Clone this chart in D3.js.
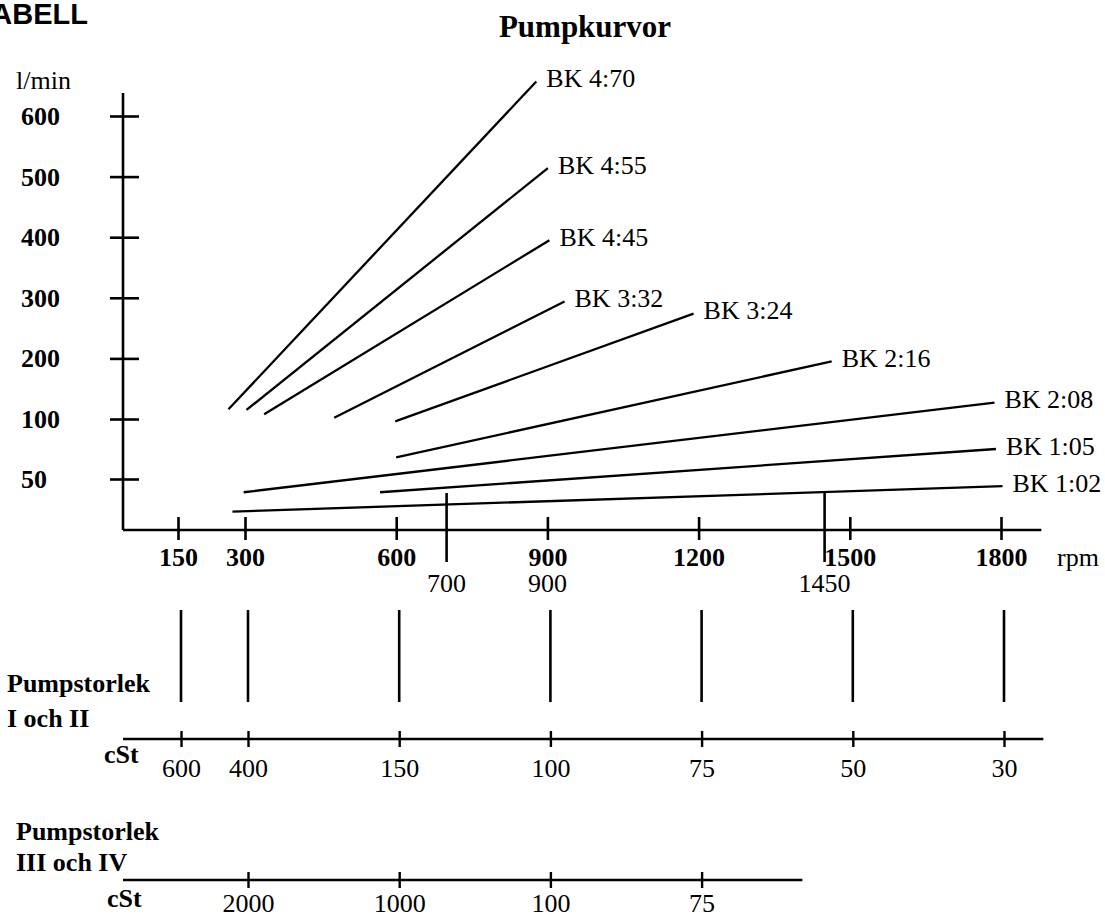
<!DOCTYPE html>
<html>
<head>
<meta charset="utf-8">
<script src="https://cdn.jsdelivr.net/npm/d3@7"></script>
<style>
  body { margin: 0; background: #fff; }
  svg { display: block; }
  text { font-family: 'Liberation Serif', 'Times New Roman', serif; fill: #000; }
</style>
</head>
<body>
<div id="chart"></div>
<script>
// values
var rpmTicks = [150, 300, 600, 900, 1200, 1500, 1800];
var flowTicks = [50, 100, 200, 300, 400, 500, 600];

var curveNames = ["BK 4:70", "BK 4:55", "BK 4:45", "BK 3:32", "BK 3:24", "BK 2:16", "BK 2:08", "BK 1:05", "BK 1:02"];
var curveStartRpm = [263, 303, 338, 477, 598, 600, 297, 568, 272];
var curveStartFlow = [116, 115, 108, 102, 98, 68, 37, 37, 18];
var curveEndRpm = [878, 901, 904, 934, 1190, 1464, 1787, 1790, 1803];
var curveEndFlow = [657, 514, 395, 294, 274, 195, 127, 75, 43];

var markerLines = [700, 1450];
var markerLabels = [700, 900, 1450];

// viscosity scales, aligned to rpm positions
var cstSmallRpm = [150, 300, 600, 900, 1200, 1500, 1800];
var cstSmallLabels = ["600", "400", "150", "100", "75", "50", "30"];
var cstLargeRpm = [300, 600, 900, 1200];
var cstLargeLabels = ["2000", "1000", "100", "75"];

draw_pump_chart("#chart", 1105, 917);

function draw_pump_chart(htmlObjectId, width, height) {

    var svg = d3.select(htmlObjectId)
                .append("svg")
                .attr("width", width)
                .attr("height", height);

    svg.append("rect").attr("width", width).attr("height", height).attr("fill", "#fff");

    // the original scales are not uniform near the origin -> piecewise linear
    var x = d3.scaleLinear()
              .domain([0, 150, 300, 1800])
              .range([123, 178, 245, 1001]);

    var y = d3.scaleLinear()
              .domain([0, 50, 100, 600])
              .range([530, 479, 419, 116]);

    // header
    svg.append("text")
        .attr("x", 88).attr("y", 24)
        .attr("text-anchor", "end")
        .style("font-family", "'Liberation Sans', Arial, sans-serif")
        .style("font-weight", "bold")
        .style("font-size", "29px")
        .text("TABELL");

    svg.append("text")
        .attr("x", 585).attr("y", 37)
        .attr("text-anchor", "middle")
        .style("font-weight", "bold")
        .style("font-size", "31px")
        .text("Pumpkurvor");

    // y axis
    svg.append("line")
        .attr("x1", x(0)).attr("x2", x(0))
        .attr("y1", y(0)).attr("y2", y(638))
        .attr("stroke", "#000").attr("stroke-width", 2.6);

    var yAxis = d3.axisLeft(y)
                  .tickValues(flowTicks)
                  .tickSizeInner(13)
                  .tickSizeOuter(0)
                  .tickFormat(d3.format("d"));

    var gy = svg.append("g")
        .attr("transform", "translate(" + x(0) + ",0)")
        .call(yAxis);
    gy.select(".domain").remove();
    gy.selectAll(".tick line").attr("x1", 16).attr("stroke", "#000").attr("stroke-width", 2.6);
    gy.selectAll(".tick text")
        .attr("x", 21 - x(0))
        .attr("dy", "0.33em")
        .attr("text-anchor", "start")
        .style("font-family", "'Liberation Serif', 'Times New Roman', serif")
        .style("font-weight", "bold")
        .style("font-size", "26px")
        .attr("fill", "#000");

    svg.append("text")
        .attr("x", 16).attr("y", 89)
        .style("font-size", "26px")
        .text("l/min");

    // x axis
    svg.append("line")
        .attr("x1", x(0)).attr("x2", x(1880))
        .attr("y1", y(0)).attr("y2", y(0))
        .attr("stroke", "#000").attr("stroke-width", 2.6);

    var xAxis = d3.axisBottom(x)
                  .tickValues(rpmTicks)
                  .tickSizeInner(10)
                  .tickSizeOuter(0)
                  .tickFormat(d3.format("d"));

    var gx = svg.append("g")
        .attr("transform", "translate(0," + y(0) + ")")
        .call(xAxis);
    gx.select(".domain").remove();
    gx.selectAll(".tick line").attr("y1", -13).attr("stroke", "#000").attr("stroke-width", 2.6);
    gx.selectAll(".tick text")
        .attr("y", 36)
        .attr("dy", 0)
        .style("font-family", "'Liberation Serif', 'Times New Roman', serif")
        .style("font-weight", "bold")
        .style("font-size", "26px")
        .attr("fill", "#000");

    svg.append("text")
        .attr("x", 1057).attr("y", 566)
        .style("font-size", "26px")
        .text("rpm");

    // marker lines for motor speeds
    svg.selectAll(".marker")
        .data(markerLines)
      .enter().append("line")
        .attr("class", "marker")
        .attr("x1", function(d) { return x(d); })
        .attr("x2", function(d) { return x(d); })
        .attr("y1", y(0) - 37)
        .attr("y2", y(0) + 32)
        .attr("stroke", "#000").attr("stroke-width", 2.6);

    svg.selectAll(".marker-label")
        .data(markerLabels)
      .enter().append("text")
        .attr("class", "marker-label")
        .attr("x", function(d) { return x(d); })
        .attr("y", y(0) + 62)
        .attr("text-anchor", "middle")
        .style("font-size", "26px")
        .text(function(d) { return d; });

    // pump curves
    var curves = curveNames.map(function(name, i) {
        return {
            name: name,
            pts: [[curveStartRpm[i], curveStartFlow[i]], [curveEndRpm[i], curveEndFlow[i]]]
        };
    });

    var line = d3.line()
        .x(function(d) { return x(d[0]); })
        .y(function(d) { return y(d[1]); });

    svg.selectAll(".curve")
        .data(curves)
      .enter().append("path")
        .attr("class", "curve")
        .attr("fill", "none")
        .attr("stroke", "#000")
        .attr("stroke-width", 2.3)
        .attr("d", function(d) { return line(d.pts); });

    svg.selectAll(".curve-label")
        .data(curves)
      .enter().append("text")
        .attr("class", "curve-label")
        .attr("x", function(d) { return x(d.pts[1][0]) + 10; })
        .attr("y", function(d) { return y(d.pts[1][1]); })
        .attr("dy", "0.22em")
        .style("font-size", "26px")
        .text(function(d) { return d.name; });

    // viscosity scale for pump size I and II
    var xc = x.copy().range(x.range().map(function(v) { return v + 3; }));
    var ySmall = 739;

    svg.selectAll(".cst-bar")
        .data(cstSmallRpm)
      .enter().append("line")
        .attr("class", "cst-bar")
        .attr("x1", function(d) { return xc(d); })
        .attr("x2", function(d) { return xc(d); })
        .attr("y1", ySmall - 129)
        .attr("y2", ySmall - 37)
        .attr("stroke", "#000").attr("stroke-width", 2.6);

    draw_cst_axis(svg, xc, ySmall, cstSmallRpm, cstSmallLabels, x(0), xc(1878), 38);

    svg.append("text").attr("x", 7).attr("y", ySmall - 47)
        .style("font-weight", "bold").style("font-size", "26px").text("Pumpstorlek");
    svg.append("text").attr("x", 7).attr("y", ySmall - 12)
        .style("font-weight", "bold").style("font-size", "26px").text("I och II");
    svg.append("text").attr("x", 104).attr("y", ySmall + 24)
        .style("font-weight", "bold").style("font-size", "26px").text("cSt");

    // viscosity scale for pump size III and IV
    var yLarge = 880;
    draw_cst_axis(svg, xc, yLarge, cstLargeRpm, cstLargeLabels, x(0), xc(1400), 32);

    svg.append("text").attr("x", 16).attr("y", yLarge - 40)
        .style("font-weight", "bold").style("font-size", "26px").text("Pumpstorlek");
    svg.append("text").attr("x", 16).attr("y", yLarge - 9)
        .style("font-weight", "bold").style("font-size", "26px").text("III och IV");
    svg.append("text").attr("x", 107).attr("y", yLarge + 27)
        .style("font-weight", "bold").style("font-size", "26px").text("cSt");
}

function draw_cst_axis(svg, scale, yPos, values, labels, xStart, xEnd, labelY) {

    svg.append("line")
        .attr("x1", xStart).attr("x2", xEnd)
        .attr("y1", yPos).attr("y2", yPos)
        .attr("stroke", "#000").attr("stroke-width", 2.6);

    var axis = d3.axisBottom(scale)
                 .tickValues(values)
                 .tickSizeInner(8)
                 .tickSizeOuter(0)
                 .tickFormat(function(d, i) { return labels[i]; });

    var g = svg.append("g")
        .attr("transform", "translate(0," + yPos + ")")
        .call(axis);
    g.select(".domain").remove();
    g.selectAll(".tick line").attr("y1", -8).attr("stroke", "#000").attr("stroke-width", 2.4);
    g.selectAll(".tick text")
        .attr("y", labelY)
        .attr("dy", 0)
        .style("font-family", "'Liberation Serif', 'Times New Roman', serif")
        .style("font-size", "26px")
        .attr("fill", "#000");
}
</script>
</body>
</html>
